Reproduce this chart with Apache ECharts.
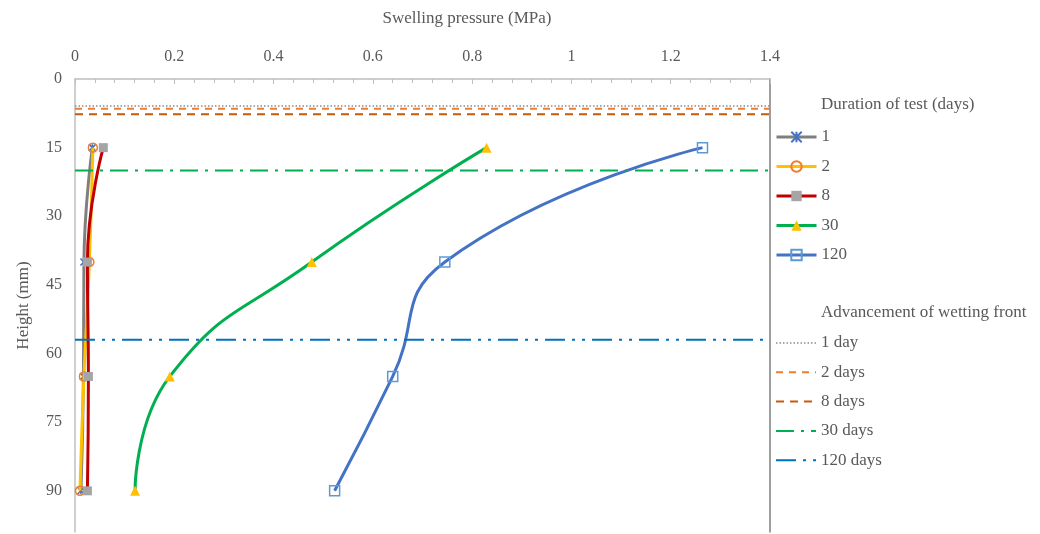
<!DOCTYPE html>
<html>
<head>
<meta charset="utf-8">
<script src="https://cdn.jsdelivr.net/npm/echarts@6/dist/echarts.min.js"></script>
<style>
  html, body { margin: 0; padding: 0; background: #fff; }
  #chart { width: 1040px; height: 534px; }
</style>
</head>
<body>
<div id="chart"></div>
<script>
// Depths (mm) at which swelling pressure was measured
const heights = [15, 40, 65, 90];

// Swelling pressure (MPa) per test duration
const durationNames = ['1', '2', '8', '30', '120'];
const pressure1 = [0.035, 0.018, 0.017, 0.012];
const pressure2 = [0.036, 0.029, 0.018, 0.010];
const pressure8 = [0.057, 0.025, 0.027, 0.025];
const pressure30 = [0.829, 0.477, 0.191, 0.121];
const pressure120 = [1.264, 0.745, 0.640, 0.523];

// Position of the wetting front (mm)
const frontNames = ['1 day', '2 days', '8 days', '30 days', '120 days'];
const frontHeights = [5.9, 6.5, 7.7, 20, 57];

const xMin = 0, xMax = 1.4, xStep = 0.2;
const yMin = 0, yMax = 99, yStep = 15;

const FONT = "'Liberation Serif', 'DejaVu Serif', serif";
const TEXT = '#595959';

const pairs = (xs) => xs.map((x, i) => [x, heights[i]]);
const star = 'path://M0,0 L10,10 M10,0 L0,10 M5,0 L5,10';

const curveSeries = [
  { values: pressure1, line: '#7f7f7f', symbol: star, size: 7,
    item: { color: 'transparent', borderColor: '#4472c4', borderWidth: 1.5 } },
  { values: pressure2, line: '#ffc000', symbol: 'circle', size: 9,
    item: { color: 'transparent', borderColor: '#ed7d31', borderWidth: 1.5 } },
  { values: pressure8, line: '#c00000', symbol: 'rect', size: 9,
    item: { color: '#a5a5a5' } },
  { values: pressure30, line: '#00b050', symbol: 'triangle', size: 10,
    item: { color: '#ffc000' } },
  { values: pressure120, line: '#4472c4', symbol: 'rect', size: 10,
    item: { color: 'transparent', borderColor: '#5b9bd5', borderWidth: 1.5 } }
].map((s, i) => ({
  name: durationNames[i],
  type: 'line',
  data: pairs(s.values),
  smooth: 0.5,
  symbol: s.symbol,
  symbolSize: s.size,
  showAllSymbol: true,
  lineStyle: { color: s.line, width: 3 },
  itemStyle: s.item,
  z: 2 + i
}));

const frontStyles = [
  { color: '#8c8c8c', width: 1.5, type: [1.5, 2] },
  { color: '#ed7d31', width: 2, type: [7, 6] },
  { color: '#c55a11', width: 2, type: [8, 6] },
  { color: '#00b050', width: 2, type: [18, 7, 3, 7] },
  { color: '#0070c0', width: 2, type: [20, 7, 3, 7, 3, 7] }
];

const frontSeries = frontNames.map((name, i) => ({
  name: name,
  type: 'line',
  data: [[xMin, frontHeights[i]], [xMax, frontHeights[i]]],
  symbol: 'none',
  lineStyle: frontStyles[i],
  itemStyle: { color: frontStyles[i].color },
  z: 10
}));

const legendText = { fontFamily: FONT, fontSize: 17, color: TEXT, lineHeight: 18 };

const chart = echarts.init(document.getElementById('chart'), null, { renderer: 'canvas' });
chart.setOption({
  animation: false,
  backgroundColor: '#fff',
  textStyle: { fontFamily: FONT },
  grid: { left: 75, right: 270, top: 79, bottom: 2, containLabel: false },
  xAxis: {
    type: 'value',
    position: 'top',
    min: xMin, max: xMax, interval: xStep,
    axisLine: { show: true, lineStyle: { color: '#bfbfbf', width: 1.5 } },
    axisTick: { show: true, inside: true, length: 5, lineStyle: { color: '#bfbfbf' } },
    minorTick: { show: true, splitNumber: 5, length: 4, lineStyle: { color: '#bfbfbf' } },
    splitLine: { show: false },
    axisLabel: { fontFamily: FONT, fontSize: 16, color: TEXT, margin: 14 }
  },
  yAxis: [{
    type: 'value',
    inverse: true,
    min: yMin, max: yMax, interval: yStep,
    name: 'Height (mm)',
    nameLocation: 'middle',
    nameGap: 43,
    nameTextStyle: { fontFamily: FONT, fontSize: 17, color: TEXT },
    axisLine: { show: true, lineStyle: { color: '#bfbfbf', width: 1.5 } },
    axisTick: { show: false },
    splitLine: { show: false },
    axisLabel: { fontFamily: FONT, fontSize: 16, color: TEXT, margin: 13, showMaxLabel: false }
  }, {
    type: 'value',
    inverse: true,
    position: 'right',
    min: yMin, max: yMax, interval: yStep,
    axisLine: { show: true, onZero: false, lineStyle: { color: '#7f7f7f', width: 1.5 } },
    axisTick: { show: false },
    axisLabel: { show: false },
    splitLine: { show: false }
  }],
  legend: [{
    orient: 'vertical',
    left: 770, top: 123,
    itemWidth: 40, itemHeight: 13, itemGap: 11.5,
    textStyle: legendText,
    lineStyle: { width: 'inherit' },
    data: durationNames
  }, {
    orient: 'vertical',
    left: 770, top: 329,
    itemWidth: 40, itemHeight: 12, itemGap: 11.3,
    textStyle: legendText,
    lineStyle: { width: 'inherit' },
    itemStyle: { opacity: 0 },
    data: frontNames
  }],
  graphic: [
    { type: 'text', x: 467, y: 19,
      style: { text: 'Swelling pressure (MPa)', font: "17px 'Liberation Serif', serif",
               fill: TEXT, align: 'center', verticalAlign: 'middle' } },
    { type: 'text', x: 821, y: 105,
      style: { text: 'Duration of test (days)', font: "17px 'Liberation Serif', serif",
               fill: TEXT, align: 'left', verticalAlign: 'middle' } },
    { type: 'text', x: 821, y: 313,
      style: { text: 'Advancement of wetting front', font: "17px 'Liberation Serif', serif",
               fill: TEXT, align: 'left', verticalAlign: 'middle' } }
  ],
  series: curveSeries.concat(frontSeries)
});
</script>
</body>
</html>
